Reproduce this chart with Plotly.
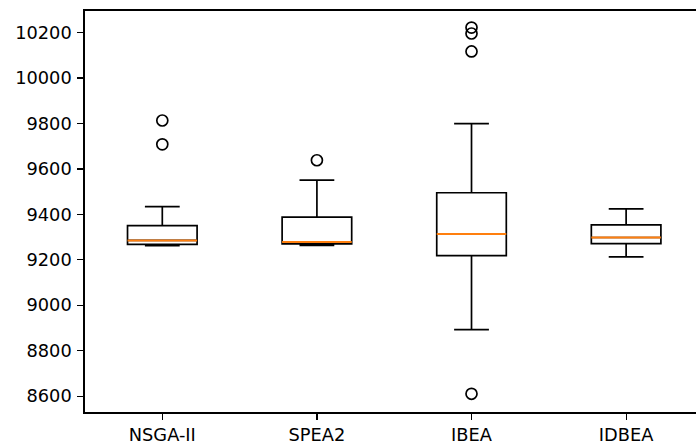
import plotly.graph_objects as go

categories = ["NSGA-II", "SPEA2", "IBEA", "IDBEA"]
positions = [1, 2, 3, 4]
lower_whisker = [9262, 9263, 8893, 9213]
q1 = [9268, 9270, 9218, 9271]
median = [9285, 9278, 9313, 9298]
q3 = [9350, 9388, 9495, 9354]
upper_whisker = [9434, 9551, 9799, 9424]
outliers = [
    [9813, 9708],
    [9638],
    [10222, 10196, 10117, 8610],
    [],
]
y_ticks = [8600, 8800, 9000, 9200, 9400, 9600, 9800, 10000, 10200]
y_tick_labels = [str(v) for v in y_ticks]

box_width = 0.45
lw = 1.7
font = dict(family="DejaVu Sans", size=17.8, color="black")

fig = go.Figure()

for i, cat in enumerate(categories):
    fig.add_trace(go.Box(
        x=[positions[i]],
        q1=[q1[i]], median=[median[i]], q3=[q3[i]],
        lowerfence=[lower_whisker[i]], upperfence=[upper_whisker[i]],
        width=box_width,
        whiskerwidth=0.5,
        fillcolor="white",
        line=dict(color="black", width=lw),
        boxpoints=False,
        name=cat,
        showlegend=False,
        hoverinfo="skip",
    ))

# median lines (orange)
mx, my = [], []
for i in range(len(categories)):
    mx += [positions[i] - box_width / 2, positions[i] + box_width / 2, None]
    my += [median[i], median[i], None]
fig.add_trace(go.Scatter(x=mx, y=my, mode="lines",
                         line=dict(color="#ff7f0e", width=2),
                         showlegend=False, hoverinfo="skip"))

# outliers
ox, oy = [], []
for i in range(len(categories)):
    for v in outliers[i]:
        ox.append(positions[i])
        oy.append(v)
fig.add_trace(go.Scatter(x=ox, y=oy, mode="markers",
                         marker=dict(symbol="circle-open", size=11,
                                     color="black", line=dict(width=lw)),
                         showlegend=False, hoverinfo="skip"))

fig.update_layout(
    width=696, height=446,
    margin=dict(l=85, r=0, t=11, b=34),
    paper_bgcolor="white", plot_bgcolor="white",
    font=font,
    showlegend=False,
    xaxis=dict(
        range=[0.5, 4.452],
        tickvals=positions, ticktext=categories,
        showgrid=False, zeroline=False, automargin=False,
        showline=True, linecolor="black", linewidth=lw, mirror=True,
        ticks="outside", ticklen=6, tickwidth=1.2, tickcolor="black",
        tickfont=font,
    ),
    yaxis=dict(
        range=[8530, 10295],
        tickvals=y_ticks, ticktext=y_tick_labels,
        showgrid=False, zeroline=False, automargin=False,
        showline=True, linecolor="black", linewidth=lw,
        ticks="outside", ticklen=6, tickwidth=1.2, tickcolor="black",
        tickfont=font, ticklabelstandoff=2,
    ),
)

fig.write_html("out.html",
               config={"displayModeBar": False, "staticPlot": True},
               post_script="document.body.style.margin='0';document.body.style.overflow='hidden';")
